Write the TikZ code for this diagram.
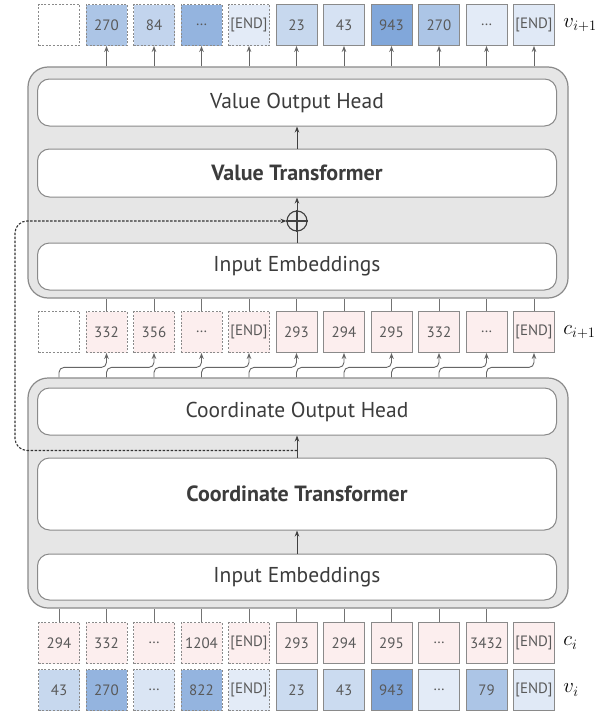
\documentclass[tikz,border=0pt]{standalone}
\usepackage{fontspec}
\setmainfont{PT Sans}
\usepackage{tikz}
\usetikzlibrary{arrows.meta, positioning, calc}
\definecolor{vb}{RGB}{70,125,200}
\definecolor{pk}{RGB}{252,238,238}
\definecolor{blkgray}{RGB}{230,230,230}
\definecolor{lngray}{RGB}{138,138,138}
\definecolor{txtgray}{RGB}{60,60,60}
\tikzset{
  lb/.style ={anchor=west, font=\fontsize{20}{24}\selectfont, text=black},
  ar/.style ={-{Stealth[length=6pt, width=4.5pt]}, line width=0.9pt, black!60},
  ln/.style ={line width=0.9pt, black!55}
}

\begin{document}
\begin{tikzpicture}[
  x=1pt, y=-1pt,
  every node/.style={text=txtgray},
  blk/.style={rectangle, draw=lngray, line width=1.2pt, rounded corners=20pt,
              fill=blkgray, minimum width=540pt},
  bx/.style={rectangle, draw=lngray, line width=1pt, rounded corners=12pt,
             fill=white, minimum width=519pt, font=\fontsize{21.5}{24}\selectfont},
  bbx/.style={bx, font=\fontsize{22}{25}\selectfont\bfseries},
  tk/.style={rectangle, draw=lngray, line width=0.9pt, minimum width=41pt,
             minimum height=41pt, inner sep=0pt,
             font=\fontsize{15}{17}\selectfont, text=black!65},
  dtk/.style={tk, dash pattern=on 2pt off 1.6pt},
  dar/.style={-{Stealth[length=6pt, width=4.5pt]}, line width=1.1pt, black!80,
              dash pattern=on 2.5pt off 1.5pt},
  iar/.style={-{Stealth[length=6pt, width=4.5pt]}, line width=1pt, black!75}
]
\path[fill=white] (0,0) rectangle (596,712);

%  Value block 
\node[blk, minimum height=231pt] (vblk) at (298,182.5) {};
\node[bx, minimum height=47pt] (vhead) at (297,102.5) {Value Output Head};
\node[bbx, minimum height=48pt, below=22pt of vhead] (vtrans) {Value Transformer};
\node[bx, minimum height=47pt, below=45pt of vtrans] (vemb) {Input Embeddings};
\node[circle, draw=black!75, line width=1.1pt, minimum size=20pt, inner sep=0pt]
      (plus) at (297,221) {};

%  Coordinate block 
\node[blk, minimum height=230pt] (cblk) at (298,493) {};
\node[bx, minimum height=47pt] (chead) at (297,411.5) {Coordinate Output Head};
\node[bbx, minimum height=72pt, below=22pt of chead] (ctrans) {Coordinate Transformer};
\node[bx, minimum height=46pt, below=23pt of ctrans] (cemb) {Input Embeddings};

%  Token rows 
\foreach \i/\s/\t/\c in {1/dtk//white, 2/dtk/270/vb!45, 3/dtk/84/vb!33,
    4/dtk/…/vb!58, 5/dtk/[END]/vb!15, 6/tk/23/vb!30, 7/tk/43/vb!22,
    8/tk/943/vb!68, 9/tk/270/vb!45, 10/tk/…/vb!15, 11/tk/[END]/vb!17}
  \node[\s, fill=\c] (vo\i) at ({59+47.5*(\i-1)},25) {\t};
\foreach \i/\s/\t in {1/dtk/, 2/dtk/332, 3/dtk/356, 4/dtk/…, 5/dtk/[END],
    6/tk/293, 7/tk/294, 8/tk/295, 9/tk/332, 10/tk/…, 11/tk/[END]}
  \node[\s, fill=pk] (cn\i) at ({59+47.5*(\i-1)},332) {\t};
\fill[white] (cn1.south west) rectangle (cn1.north east);
\node[dtk] at (cn1) {};
\foreach \i/\s/\t in {1/dtk/294, 2/dtk/332, 3/dtk/…, 4/dtk/1204, 5/dtk/[END],
    6/tk/293, 7/tk/294, 8/tk/295, 9/tk/…, 10/tk/3432, 11/tk/[END]}
  \node[\s, fill=pk] (ci\i) at ({59+47.5*(\i-1)},643) {\t};
\foreach \i/\s/\t/\c in {1/dtk/43/vb!30, 2/dtk/270/vb!58, 3/dtk/…/vb!20,
    4/dtk/822/vb!58, 5/dtk/[END]/vb!15, 6/tk/23/vb!28, 7/tk/43/vb!28,
    8/tk/943/vb!70, 9/tk/…/vb!15, 10/tk/79/vb!45, 11/tk/[END]/vb!17}
  \node[\s, fill=\c] (vi\i) at ({59+47.5*(\i-1)},690) {\t};

\node[lb, right=5pt of vo11] {$v_{i+1}$};
\node[lb, right=5pt of cn11] {$c_{i+1}$};
\node[lb, right=5pt of ci11] {$c_i$};
\node[lb, right=5pt of vi11] {$v_i$};

%  Connections 
\foreach \i in {2,...,11}
  \draw[ar] (vblk.north -| vo\i) -- (vo\i.south);
\foreach \i in {2,...,11}
  \draw[ln] (cn\i.north) -- (vblk.south -| cn\i);
\foreach \i [count=\j from 2] in {1,...,10}
  \draw[ar, rounded corners=5pt] (cblk.north -| cn\i) -- ++(0,-10) -| (cn\j.south);
\foreach \i in {1,...,10}
  \draw[ln] (ci\i.north) -- (cblk.south -| ci\i);

\draw[iar] (vtrans) -- (vhead);
\draw[iar] (plus) -- (vtrans);
\draw[line width=1pt, black!75] (vemb) -- (plus);
\draw[line width=1.1pt, black!75] (plus.north) -- (plus.south)
      (plus.west) -- (plus.east);
\draw[iar] (ctrans) -- (chead);
\draw[iar] (cemb) -- (ctrans);

%  Skip path 
\coordinate (split) at ($(ctrans.north)!0.32!(chead.south)$);
\coordinate (lane) at (15,330);
\draw[dar, rounded corners=12pt] (split) -| (lane) |- (plus.west);
\end{tikzpicture}
\end{document}
